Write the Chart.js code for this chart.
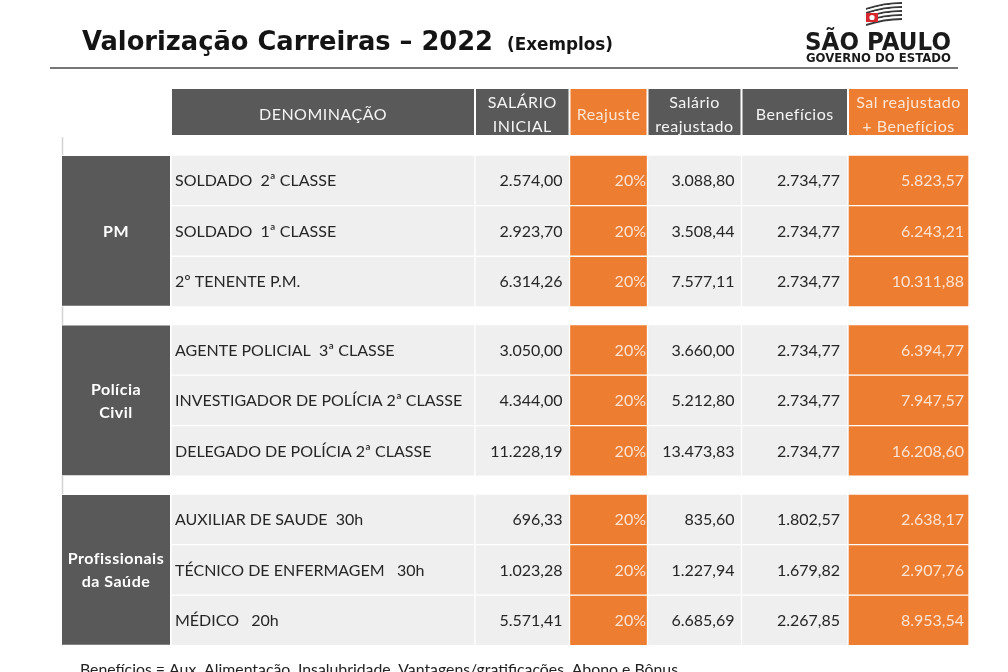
<!DOCTYPE html>
<html><head><meta charset="utf-8">
<script src="https://cdn.jsdelivr.net/npm/chart.js@4/dist/chart.umd.min.js"></script>
<style>html,body{margin:0;padding:0;background:#fff;}#wrap{width:1008px;height:672px;}</style>
</head><body><div id="wrap"><canvas id="c" width="1008" height="672"></canvas></div>
<script>
// ---------- DATA ----------
const titulo = 'Valorização Carreiras – 2022';
const subtitulo = '(Exemplos)';
const rodape = 'Benefícios = Aux. Alimentação, Insalubridade, Vantagens/gratificações, Abono e Bônus';
const cabecalhos = ['DENOMINAÇÃO', 'SALÁRIO\nINICIAL', 'Reajuste', 'Salário\nreajustado', 'Benefícios', 'Sal reajustado\n+ Benefícios'];
const grupos = ['PM', 'Polícia\nCivil', 'Profissionais\nda Saúde'];
const denominacoes = [
  'SOLDADO  2ª CLASSE', 'SOLDADO  1ª CLASSE', '2º TENENTE P.M.',
  'AGENTE POLICIAL  3ª CLASSE', 'INVESTIGADOR DE POLÍCIA 2ª CLASSE', 'DELEGADO DE POLÍCIA 2ª CLASSE',
  'AUXILIAR DE SAUDE  30h', 'TÉCNICO DE ENFERMAGEM   30h', 'MÉDICO   20h'
];
const salarioInicial = [2574.00, 2923.70, 6314.26, 3050.00, 4344.00, 11228.19, 696.33, 1023.28, 5571.41];
const reajuste = [20, 20, 20, 20, 20, 20, 20, 20, 20];
const salarioReajustado = [3088.80, 3508.44, 7577.11, 3660.00, 5212.80, 13473.83, 835.60, 1227.94, 6685.69];
const beneficios = [2734.77, 2734.77, 2734.77, 2734.77, 2734.77, 2734.77, 1802.57, 1679.82, 2267.85];
const salarioMaisBeneficios = [5823.57, 6243.21, 10311.88, 6394.77, 7947.57, 16208.60, 2638.17, 2907.76, 8953.54];

// ---------- LAYOUT (scale units) ----------
const HEADER_POS = 0;
const ROW_POS = [1.35, 2.35, 3.35, 4.7, 5.7, 6.7, 8.05, 9.05, 10.05];
const COL_EDGES = [[0,110],[110,414],[414,508.5],[508.5,586.5],[586.5,680.5],[680.5,787],[787,908]];
const DARK = '#595959', ORANGE = '#ed7d31', LIGHT = '#efefef';
const HEADER_COLORS = [DARK, DARK, ORANGE, DARK, DARK, ORANGE];
const COL_COLORS = [LIGHT, LIGHT, ORANGE, LIGHT, LIGHT, ORANGE];

const colunas = [denominacoes, salarioInicial, reajuste, salarioReajustado, beneficios, salarioMaisBeneficios];

function fmt(v){
  const [i, d] = v.toFixed(2).split('.');
  return i.replace(/\B(?=(\d{3})+(?!\d))/g, '.') + ',' + d;
}

const barBase = {borderColor:'#ffffff', borderWidth:1, borderSkipped:false, categoryPercentage:1, barPercentage:1, grouped:false};

const datasets = [];
datasets.push({type:'line', label:'borda', data:[{x:1.5, y:0.5},{x:1.5, y:10.55}], borderColor:'#d2d2d2', borderWidth:1.5, pointRadius:0, order:10});
datasets.push({type:'line', label:'regua', data:[{x:-11, y:-0.87},{x:897, y:-0.87}], borderColor:'#4a4a4a', borderWidth:1.6, pointRadius:0, clip:false, order:10});
datasets.push(Object.assign({type:'bar', label:'cabecalho', data: cabecalhos.map((t, j) => ({y:HEADER_POS, x:COL_EDGES[j+1]})), backgroundColor: HEADER_COLORS}, barBase, {barPercentage:0.95}));
datasets.push(Object.assign({type:'bar', label:'grupos', data: grupos.map((g, k) => ({y:ROW_POS[k*3+1], x:COL_EDGES[0]})), backgroundColor: DARK}, barBase, {barPercentage:3}));
colunas.forEach((arr, j) => {
  datasets.push(Object.assign({type:'bar', label:'col'+j, data: arr.map((v, i) => ({y:ROW_POS[i], x:COL_EDGES[j+1]})), backgroundColor: COL_COLORS[j]}, barBase));
});

function fitText(ctx, text, x, y, font, width){
  ctx.font = font;
  const w = ctx.measureText(text).width;
  ctx.save(); ctx.translate(x, y); ctx.scale(width / w, 1); ctx.fillText(text, 0, 0); ctx.restore();
}

const textPlugin = {
  id: 'tableText',
  afterDatasetsDraw(chart){
    const ctx = chart.ctx, xs = chart.scales.x, ys = chart.scales.y;
    const px = v => xs.getPixelForValue(v), py = v => ys.getPixelForValue(v);
    ctx.save();
    ctx.textBaseline = 'alphabetic';
    // Title
    ctx.fillStyle = '#141414'; ctx.textAlign = 'left';
    fitText(ctx, titulo, 82, 50, 'bold 27px "DejaVu Sans"', 411);
    fitText(ctx, subtitulo, 507, 50, 'bold 17px "DejaVu Sans"', 106);
    // Logo
    ctx.fillStyle = '#1a1a1a';
    fitText(ctx, 'SÃO PAULO', 805, 50, 'bold 25px "DejaVu Sans"', 146);
    fitText(ctx, 'GOVERNO DO ESTADO', 806, 62, 'bold 13px "DejaVu Sans"', 145);
    // flag
    for (let s = 0; s < 9; s++) {
      ctx.fillStyle = s % 2 ? '#ffffff' : '#3a3a3a';
      const t0 = 8 + s * 2.0;
      ctx.beginPath();
      ctx.moveTo(866, t0); ctx.quadraticCurveTo(884, t0 - 6, 902, t0 - 6);
      ctx.lineTo(902, t0 - 4); ctx.quadraticCurveTo(884, t0 - 4, 866, t0 + 2);
      ctx.closePath(); ctx.fill();
    }
    ctx.fillStyle = '#d7282f'; ctx.fillRect(866, 13, 12, 9);
    ctx.fillStyle = '#ffffff'; ctx.beginPath(); ctx.arc(872, 17.5, 2.6, 0, Math.PI*2); ctx.fill();
    // Footer
    ctx.fillStyle = '#222222';
    fitText(ctx, rodape, 80, 675, '16px Lato', 598);

    // Header texts
    const hy = py(HEADER_POS) + 2;
    ctx.textAlign = 'center';
    ctx.font = '16px Lato';
    ctx.letterSpacing = '0.5px';
    cabecalhos.forEach((t, j) => {
      const [a, b] = COL_EDGES[j+1];
      const cx = (px(a) + px(b)) / 2;
      ctx.fillStyle = HEADER_COLORS[j] === ORANGE ? '#fde5d3' : '#f4f4f4';
      const lines = t.split('\n');
      lines.forEach((ln, k) => {
        const cy = hy + (k - (lines.length - 1) / 2) * 24;
        ctx.fillText(ln, cx, cy + 5.8);
      });
    });
    // Group labels
    ctx.font = 'bold 16px Lato';
    ctx.fillStyle = '#ffffff';
    grupos.forEach((g, k) => {
      const cx = (px(COL_EDGES[0][0]) + px(COL_EDGES[0][1])) / 2;
      const cyc = py(ROW_POS[k*3+1]);
      const lines = g.split('\n');
      lines.forEach((ln, m) => {
        const cy = cyc + (m - (lines.length - 1) / 2) * 23;
        ctx.fillText(ln, cx, cy + 5.8);
      });
    });
    ctx.letterSpacing = '0px';
    // Body
    ctx.font = '16px Lato';
    denominacoes.forEach((t, i) => {
      const cy = py(ROW_POS[i]) + 5.8;
      ctx.textAlign = 'left'; ctx.fillStyle = '#262626';
      ctx.fillText(t, px(COL_EDGES[1][0]) + 4, cy);
      ctx.textAlign = 'right';
      ctx.fillText(fmt(salarioInicial[i]), px(COL_EDGES[2][1]) - 7, cy);
      ctx.fillText(fmt(salarioReajustado[i]), px(COL_EDGES[4][1]) - 7, cy);
      ctx.fillText(fmt(beneficios[i]), px(COL_EDGES[5][1]) - 8, cy);
      ctx.fillStyle = '#fde3d0';
      ctx.fillText(reajuste[i] + '%', px(COL_EDGES[3][1]) - 1.5, cy);
      ctx.fillText(fmt(salarioMaisBeneficios[i]), px(COL_EDGES[6][1]) - 5, cy);
    });
    ctx.restore();
  }
};

new Chart(document.getElementById('c'), {
  type: 'bar',
  data: {datasets},
  options: {
    responsive: false, animation: false, events: [],
    indexAxis: 'y',
    layout: {padding: {left: 61, right: 39, top: 86.75, bottom: 26.25}},
    plugins: {legend: {display: false}, tooltip: {enabled: false}, title: {display: false}},
    scales: {
      x: {type: 'linear', min: 0, max: 908, display: false, offset: false},
      y: {type: 'linear', min: -0.5, max: 10.55, reverse: true, display: false, offset: false,
          afterBuildTicks: s => { s.ticks = [HEADER_POS].concat(ROW_POS).map(v => ({value: v})); }}
    }
  },
  plugins: [textPlugin]
});
</script></body></html>
